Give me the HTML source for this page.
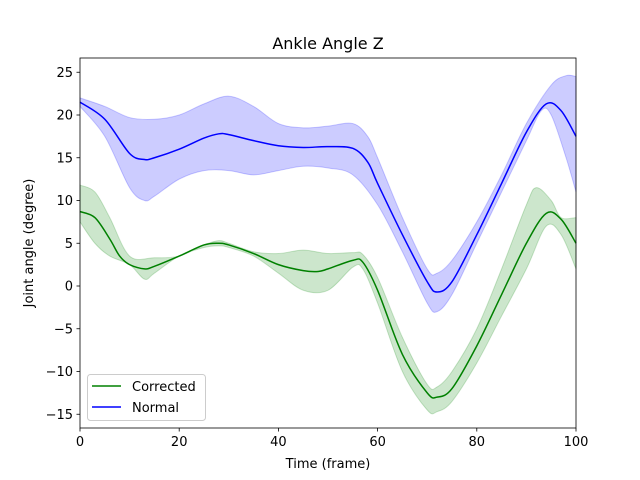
<!DOCTYPE html>
<html><head><meta charset="utf-8"><style>
body{margin:0;background:#fff}
svg{display:block;font-family:"DejaVu Sans","Liberation Sans",sans-serif}
</style></head><body>
<svg id="chart" width="640" height="480"></svg>
<script>
const normX=[0,5,10,13,15,20,25,28,30,35,40,45,50,55,58,60,65,70,72,75,80,85,90,94,97,100];
const normMean=[21.5,19.5,15.5,14.8,15,16,17.3,17.8,17.7,17,16.4,16.2,16.3,16.1,14.5,12,6,0.5,-0.7,0.5,6,12,18,21.3,20.5,17.5];
const normUpX=[0,5,10,15,20,25,30,35,40,45,50,55,58,60,65,70,72,75,80,85,90,95,98,100];
const normUpper=[22,21,19.7,19.5,20,21.3,22.2,21,19,18.5,18.7,19,17.5,15,8,2,1.5,3,7.5,13,19,23.5,24.6,24.5];
const normLoX=[0,5,10,13,15,20,25,30,35,40,45,50,55,60,65,70,72,75,80,85,90,93,95,98,100];
const normLower=[21,17.5,11.5,10,10.5,12.5,13.5,13.5,13,13.5,14,13.8,13,9.5,4,-2,-3,-1,5,11,17,20.5,20,15,11];
const corX=[0,3,6,8,10,13,15,20,25,28,30,35,40,45,48,50,55,57,60,65,70,72,75,80,85,90,94,97,100];
const corMean=[8.7,8,5.5,3.5,2.5,2,2.3,3.5,4.8,5,4.8,3.8,2.5,1.8,1.7,2,3,2.8,-0.5,-8,-12.5,-13,-12,-7,-1,5,8.5,7.8,5];
const corUpX=[0,3,6,10,15,20,25,28,30,35,40,45,50,55,57,60,65,70,72,75,80,85,90,92,95,97,100];
const corUpper=[11.8,11,8,3.5,3.3,3.5,4.8,5.3,5,4,3.8,4.2,3.8,3.9,3.7,1,-6,-11.5,-11.8,-10,-5,2,9.5,11.5,10,8,8];
const corLoX=[0,3,6,10,13,15,20,25,28,30,35,40,45,50,55,57,60,65,70,72,75,80,85,90,94,97,100];
const corLower=[7.5,5,3.5,2.5,0.8,1.5,3.5,4.5,4.7,4.5,3.5,1.5,-0.5,-0.5,2.2,2,-2,-10,-14.5,-14.7,-13.5,-9,-3.5,2,7,6,2];
const xTicks=[0,20,40,60,80,100];
const yTicks=[-15,-10,-5,0,5,10,15,20,25];

const L=80,R=576,T=58,B=428;
const sx=v=>L+(v-0)/100*(R-L);
const sy=v=>286-v*(42.75/5);
const svg=document.getElementById('chart');
const NS='http://www.w3.org/2000/svg';
function mk(tag,attrs,parent){const e=document.createElementNS(NS,tag);for(const k in attrs)e.setAttribute(k,attrs[k]);(parent||svg).appendChild(e);return e;}
function pts(xs,ys){return xs.map((x,i)=>[sx(x),sy(ys[i])]);}
function curve(p,start){let d=start?`M${p[0][0]},${p[0][1]}`:`L${p[0][0]},${p[0][1]}`;
 for(let i=0;i<p.length-1;i++){const p0=p[Math.max(0,i-1)],p1=p[i],p2=p[i+1],p3=p[Math.min(p.length-1,i+2)];
  const c1=[p1[0]+(p2[0]-p0[0])/6,p1[1]+(p2[1]-p0[1])/6],c2=[p2[0]-(p3[0]-p1[0])/6,p2[1]-(p3[1]-p1[1])/6];
  d+=`C${c1[0]},${c1[1]} ${c2[0]},${c2[1]} ${p2[0]},${p2[1]}`;}return d;}
function band(ux,uy,lx,ly,color,name){const up=pts(ux,uy),lo=pts(lx,ly).reverse();
 const e=mk('path',{d:curve(up,true)+curve(lo,false)+'Z',fill:color,'fill-opacity':0.2,stroke:color,'stroke-opacity':0.2});
 
 }
function line(xs,ys,color,name){const e=mk('path',{d:curve(pts(xs,ys),true),fill:'none',stroke:color,'stroke-width':1.5});
 
 }
band(normUpX,normUpper,normLoX,normLower,'#0000ff','normal-band');
band(corUpX,corUpper,corLoX,corLower,'#008000','corrected-band');
line(corX,corMean,'#008000','corrected-line');
line(normX,normMean,'#0000ff','normal-line');
const frame=mk('rect',{x:L,y:T,width:R-L,height:B-T,fill:'none',stroke:'#000','stroke-width':0.8});


xTicks.forEach(v=>{mk('line',{x1:sx(v),x2:sx(v),y1:B,y2:B+3.5,stroke:'#000','stroke-width':0.8});
 const t=mk('text',{x:sx(v),y:B+18,'text-anchor':'middle','font-size':13});t.textContent=v;
 
 });
yTicks.forEach(v=>{mk('line',{x1:L-3.5,x2:L,y1:sy(v),y2:sy(v),stroke:'#000','stroke-width':0.8});
 const t=mk('text',{x:L-7,y:sy(v)+4.5,'text-anchor':'end','font-size':13});t.textContent=v<0?'\u2212'+(-v):v;
 
 });
</script>
<svg style="position:absolute;left:0;top:0" width="640" height="480">
<text x="328" y="49" text-anchor="middle" font-size="16">Ankle Angle Z</text>
<text x="328" y="468" text-anchor="middle" font-size="13">Time (frame)</text>
<text transform="translate(33,243) rotate(-90)" text-anchor="middle" font-size="13">Joint angle (degree)</text>
<g>
<rect x="87.5" y="374.5" width="118" height="46" rx="3" fill="#fff" fill-opacity="0.8" stroke="#ccc"/>
<line x1="92" x2="121" y1="386" y2="386" stroke="#008000" stroke-width="1.5"/>
<text x="132" y="391" font-size="13">Corrected</text>
<line x1="92" x2="121" y1="407" y2="407" stroke="#0000ff" stroke-width="1.5"/>
<text x="132" y="412" font-size="13">Normal</text>
</g>
</svg>
</body></html>
